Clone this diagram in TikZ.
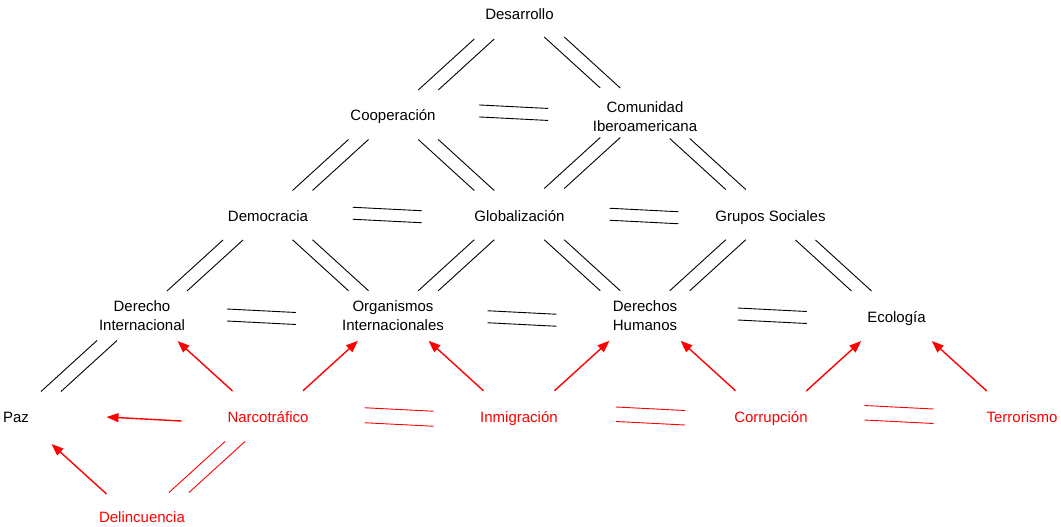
\documentclass[tikz,border=0pt]{standalone}
\usepackage{fontspec}
\setmainfont{Liberation Sans}
\usetikzlibrary{calc,arrows.meta}
\begin{document}
\begin{tikzpicture}[x=1pt,y=-1pt,
  % offsets and gap of the "=" style link symbols
  pdx/.store in=\pdx, pdy/.store in=\pdy, psep/.store in=\psep,
  pdx=0, pdy=0, psep=12,
  lbl/.style={inner sep=0pt, font=\fontsize{15pt}{19pt}\selectfont,
    text height=12pt, text depth=0pt, anchor=base},
  lbltwo/.style={inner sep=0pt, font=\fontsize{15pt}{19pt}\selectfont, align=center},
  hot/.style={text=red},
  link/.style={draw=black, line width=0.9pt},
  redlink/.style={draw=red, line width=0.9pt},
  % two parallel strokes rising to the right, centred between the nodes
  slashpair/.style={to path={
    ($(\tikztostart)!.5!(\tikztotarget)+(\pdx,\pdy)$)
    +(-38,25.5) -- +(18,-25.5)
    +(-18,25.5) -- +(38,-25.5)}},
  % two parallel strokes falling to the right
  backpair/.style={to path={
    ($(\tikztostart)!.5!(\tikztotarget)+(\pdx,\pdy)$)
    +(-38,-25.5) -- +(18,25.5)
    +(-18,-25.5) -- +(38,25.5)}},
  % two nearly horizontal strokes
  hpair/.style={to path={
    ($(\tikztostart)!.5!(\tikztotarget)+(\pdx,\pdy)$)
    +(-34.5,{-\psep/2-1.75}) -- +(34.5,{-\psep/2+1.75})
    +(-34.5,{\psep/2-1.75}) -- +(34.5,{\psep/2+1.75})}},
  arrowbase/.style={draw=red, line width=1.4pt, -{Triangle[length=12pt,width=9pt]}},
  % red diagonal arrow of fixed size, centred between the nodes
  push/.style={arrowbase, to path={
    let \p1=($(\tikztotarget)-(\tikztostart)$),
        \n1={(\x1>0)?1:-1}, \n2={(\y1>0)?1:-1} in
    ($(\tikztostart)!.5!(\tikztotarget)+(\pdx,\pdy)$)
    +({-27.5*\n1},{-25*\n2}) -- +({27.5*\n1},{25*\n2})}},
  % red arrow between nodes on the same row
  pushflat/.style={arrowbase, to path={
    ($(\tikztostart)!.5!(\tikztotarget)+(\pdx,\pdy)$)
    +(37.5,2) -- +(-37.5,-2)}}
]
\useasboundingbox (0,0) rectangle (1061,527);

% concepts
\node[lbl] (des) at (519.5,20) {Desarrollo};
\node[lbl] (coop) at (393,121) {Cooperación};
\node[lbltwo] (com) at (645,117) {Comunidad\\Iberoamericana};
\node[lbl] (dem) at (268,221) {Democracia};
\node[lbl] (glob) at (519.5,221) {Globalización};
\node[lbl] (grup) at (770.5,221) {Grupos Sociales};
\node[lbltwo] (derint) at (142,316) {Derecho\\Internacional};
\node[lbltwo] (org) at (393,315.5) {Organismos\\Internacionales};
\node[lbltwo] (derh) at (645,315.5) {Derechos\\Humanos};
\node[lbl] (eco) at (896.5,322) {Ecología};
\node[lbl] (paz) at (16,422) {Paz};

% threats
\node[lbl,hot] (narco) at (268,422) {Narcotráfico};
\node[lbl,hot] (inmig) at (519,422) {Inmigración};
\node[lbl,hot] (corr) at (771,422) {Corrupción};
\node[lbl,hot] (terr) at (1022,422) {Terrorismo};
\node[lbl,hot] (delinc) at (142,522) {Delincuencia};

% links between concepts
\draw[link,slashpair] (coop) to (des);
\draw[link,backpair,pdy=-3] (des) to (com);
\draw[link,hpair,pdx=-5.5,pdy=-3.3] (coop) to (com);
\draw[link,slashpair] (dem) to (coop);
\draw[link,backpair] (coop) to (glob);
\draw[link,slashpair,pdy=-3] (glob) to (com);
\draw[link,backpair,pdy=-2] (com) to (grup);
\draw[link,hpair,pdx=-6.5] (dem) to (glob);
\draw[link,hpair,pdx=-1,pdy=1] (glob) to (grup);
\draw[link,slashpair] (derint) to (dem);
\draw[link,backpair] (dem) to (org);
\draw[link,slashpair] (org) to (glob);
\draw[link,backpair] (glob) to (derh);
\draw[link,slashpair] (derh) to (grup);
\draw[link,backpair] (grup) to (eco);
\draw[link,hpair,pdx=-6,pdy=1] (derint) to (org);
\draw[link,hpair,pdx=3,pdy=3] (org) to (derh);
\draw[link,hpair,pdx=1.5] (derh) to (eco);
\draw[link,slashpair] (paz) to (derint);

% links between threats
\draw[redlink,slashpair,pdx=2,pdy=1] (delinc) to (narco);
\draw[redlink,hpair,pdx=5.7,pdy=1,psep=15] (narco) to (inmig);
\draw[redlink,hpair,pdx=5.5,psep=14.5] (inmig) to (corr);
\draw[redlink,hpair,pdx=2.5,pdy=-1.5,psep=14.5] (corr) to (terr);

% threats acting on concepts
\draw[push] (narco) to (derint);
\draw[pushflat,pdx=2,pdy=3] (narco) to (paz);
\draw[push] (narco) to (org);
\draw[push,pdy=3] (delinc) to (paz);
\draw[push] (inmig) to (org);
\draw[push] (inmig) to (derh);
\draw[push] (corr) to (derh);
\draw[push] (corr) to (eco);
\draw[push] (terr) to (eco);
\end{tikzpicture}
\end{document}
